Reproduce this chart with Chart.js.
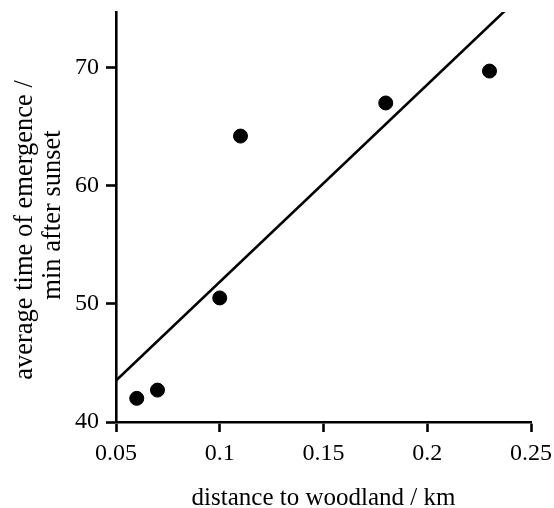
<!DOCTYPE html>
<html>
<head>
<meta charset="utf-8">
<script src="https://cdn.jsdelivr.net/npm/chart.js@4.4.1/dist/chart.umd.min.js"></script>
<style>
  html, body { margin: 0; padding: 0; background: #fff; }
  #wrap { width: 554px; height: 508px; position: relative; }
</style>
</head>
<body>
<div id="wrap"><canvas id="c" width="554" height="508"></canvas></div>
<script>
// ---- data ----
const distanceKm = [0.06, 0.07, 0.10, 0.11, 0.18, 0.23];
const emergenceMin = [42.0, 42.7, 50.5, 64.2, 67.0, 69.7];
// fitted line (endpoints; clipped at top of plot)
const fitX = [0.05, 0.25];
const fitY = [43.5, 76.9];
const xTicks = [0.05, 0.10, 0.15, 0.20, 0.25];
const xTickLabels = ['0.05', '0.1', '0.15', '0.2', '0.25'];
const yTicks = [40, 50, 60, 70];
const yTickLabels = ['40', '50', '60', '70'];
const xTitle = 'distance to woodland / km';
const yTitleLines = ['average time of emergence /', 'min after sunset'];

const FONT = '"Liberation Serif", "Times New Roman", serif';

const yTitlePlugin = {
  id: 'yTitle',
  afterDraw(chart) {
    const ctx = chart.ctx;
    const area = chart.chartArea;
    const mid = (area.top + area.bottom) / 2;
    ctx.save();
    ctx.fillStyle = '#000';
    ctx.font = '26.5px ' + FONT;
    ctx.textAlign = 'center';
    ctx.textBaseline = 'middle';
    const pos = [[25, mid + 13], [53, mid - 2]];
    yTitleLines.forEach((t, i) => {
      ctx.save();
      ctx.translate(pos[i][0], pos[i][1]);
      ctx.rotate(-Math.PI / 2);
      ctx.fillText(t, 0, 0);
      ctx.restore();
    });
    ctx.restore();
  }
};

new Chart(document.getElementById('c'), {
  type: 'scatter',
  data: {
    datasets: [
      {
        label: 'fit',
        type: 'line',
        data: fitX.map((x, i) => ({ x, y: fitY[i] })),
        borderColor: '#000',
        borderWidth: 2.6,
        pointRadius: 0,
        fill: false,
        tension: 0
      },
      {
        label: 'data',
        data: distanceKm.map((x, i) => ({ x, y: emergenceMin[i] })),
        backgroundColor: '#000',
        borderColor: '#000',
        pointRadius: 7,
        pointHoverRadius: 7
      }
    ]
  },
  options: {
    responsive: false,
    animation: false,
    devicePixelRatio: 1,
    layout: { padding: { top: 12, right: 23, left: 0, bottom: 0 } },
    plugins: { legend: { display: false }, tooltip: { enabled: false } },
    scales: {
      x: {
        type: 'linear',
        min: 0.05,
        max: 0.25,
        afterBuildTicks: s => { s.ticks = xTicks.map(v => ({ value: v })); },
        afterFit: s => { s.height = 86; s.paddingLeft = 0; s.paddingRight = 0; },
        border: { display: true, color: '#000', width: 2.6 },
        grid: { drawOnChartArea: false, drawTicks: true, tickLength: 10, tickColor: '#000', tickWidth: 2.6 },
        ticks: {
          color: '#000',
          font: { family: FONT, size: 24 },
          padding: 7,
          maxRotation: 0,
          callback: (v, i) => xTickLabels[i]
        },
        title: {
          display: true,
          text: xTitle,
          color: '#000',
          font: { family: FONT, size: 25, lineHeight: 1 },
          padding: { top: 0, bottom: -3 }
        }
      },
      y: {
        type: 'linear',
        min: 40,
        max: 74.7,
        afterBuildTicks: s => { s.ticks = yTicks.map(v => ({ value: v })); },
        afterFit: s => { s.width = 116; s.paddingTop = 0; s.paddingBottom = 0; },
        border: { display: true, color: '#000', width: 2.6 },
        grid: { drawOnChartArea: false, drawTicks: true, tickLength: 10, tickColor: '#000', tickWidth: 2.6 },
        ticks: {
          color: '#000',
          font: { family: FONT, size: 24 },
          padding: 7,
          callback: (v, i) => yTickLabels[i]
        }
      }
    }
  },
  plugins: [yTitlePlugin]
});
</script>
</body>
</html>
